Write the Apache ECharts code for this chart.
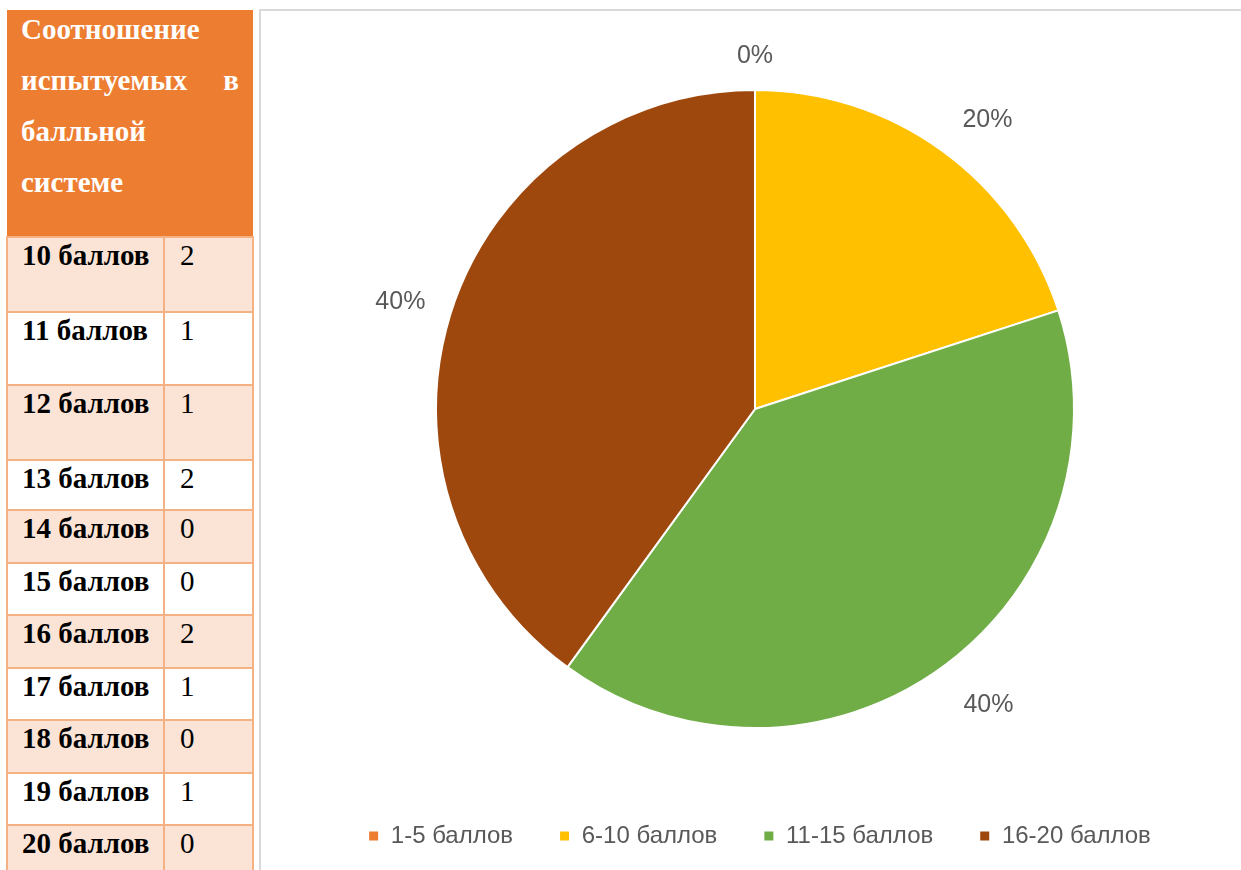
<!DOCTYPE html>
<html><head><meta charset="utf-8">
<script src="https://cdn.jsdelivr.net/npm/echarts@6/dist/echarts.min.js"></script>
<style>
html,body{margin:0;padding:0;width:1241px;height:870px;overflow:hidden;background:#fff;}
#tbl{position:absolute;left:6px;top:10px;width:248px;border-collapse:collapse;font-family:"Liberation Serif","Times New Roman",serif;font-size:29px;color:#000;}
#tbl td{border:2px solid #F4B183;vertical-align:top;padding:1px 0 0 14px;line-height:32px;box-sizing:border-box;}
#tbl td.h{background:#ED7D31;color:#fff;font-weight:bold;padding:0 14px 0 14px;border:none;height:227px;}
#tbl td.h div{line-height:51px;white-space:nowrap;}
#tbl td.h .first{margin-top:-6px;}
#tbl td.k{font-weight:bold;width:157px;padding-left:14px;white-space:nowrap;}
#tbl td.v{padding-left:15px;}
#tbl tr.odd td{background:#FBE4D5;}
#chart{position:absolute;left:259px;top:9px;width:1000px;height:880px;border:2px solid #D9D9D9;box-sizing:border-box;}
</style></head>
<body>
<table id="tbl"></table>
<div id="chart"></div>
<script>
const headerLines = ["Соотношение", "испытуемых в", "балльной", "системе"];
const tableLabels = ["10 баллов","11 баллов","12 баллов","13 баллов","14 баллов","15 баллов","16 баллов","17 баллов","18 баллов","19 баллов","20 баллов"];
const tableValues = [2,1,1,2,0,0,2,1,0,1,0];
const rowHeights = [75,73,75,50,53,52,53,52,53,52,52];

const categories = ["1-5 баллов","6-10 баллов","11-15 баллов","16-20 баллов"];
const values = [0,2,4,4];
const colors = ["#ED7D31","#FFC000","#70AD47","#9E480E"];
const labelOffsets = [[0,22],[12,14],[13,-7],[2,9]];

// build table
const tbl = document.getElementById('tbl');
let html = '<tr><td class="h" colspan="2">';
headerLines.forEach((l,i)=>{
  const style = i===1 ? 'text-align:justify;text-align-last:justify;white-space:normal;' : '';
  html += '<div class="'+(i===0?'first':'')+'" style="'+style+'">'+l+'</div>';
});
html += '</td></tr>';
tableLabels.forEach((l,i)=>{
  html += '<tr class="'+(i%2===0?'odd':'')+'" style="height:'+rowHeights[i]+'px"><td class="k">'+l+'</td><td class="v">'+tableValues[i]+'</td></tr>';
});
tbl.innerHTML = html;

const chart = echarts.init(document.getElementById('chart'));
const data = categories.map((c,i)=>({name:c,value:values[i],itemStyle:{color:colors[i]}}));
const font = '"Liberation Sans", Arial, sans-serif';
chart.setOption({
  animation:false,
  legend:{
    top:808, left:'center',
    itemWidth:11,itemHeight:11,itemGap:45,icon:'rect',
    formatter:' {name}',
    textStyle:{color:'#595959',fontSize:24,fontFamily:font},
    data:categories
  },
  series:[{
    type:'pie',
    center:[494,398],
    radius:[0,319],
    startAngle:90,
    clockwise:true,
    avoidLabelOverlap:false,
    silent:true,
    label:{show:false},
    labelLine:{show:false},
    itemStyle:{borderColor:'#fff',borderWidth:2},
    data:data
  },{
    type:'pie',
    center:[494,398],
    radius:[362,382],
    startAngle:90,
    clockwise:true,
    avoidLabelOverlap:false,
    silent:true,
    legendHoverLink:false,
    itemStyle:{color:'rgba(0,0,0,0)',borderWidth:0},
    label:{show:true,position:'inside',formatter:'{d}%',color:'#595959',fontSize:25,fontFamily:font,rotate:0},
    labelLine:{show:false},
    data:categories.map((c,i)=>({name:c+' ',value:values[i],label:{offset:labelOffsets[i]}}))
  }]
});
</script>
</body></html>
